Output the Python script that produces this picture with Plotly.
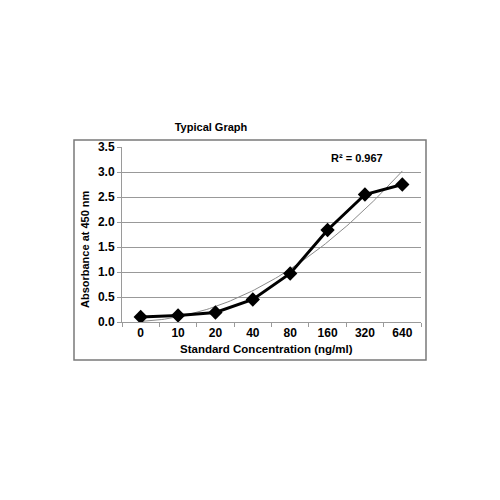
import numpy as np
import plotly.graph_objects as go

# standard curve data
concentrations = ["0", "10", "20", "40", "80", "160", "320", "640"]
absorbance = [0.10, 0.13, 0.19, 0.45, 0.97, 1.84, 2.55, 2.75]
y_ticks = [0.0, 0.5, 1.0, 1.5, 2.0, 2.5, 3.0, 3.5]
r_squared_label = "R² = 0.967"

pos = np.arange(len(concentrations))

# 2nd order polynomial trendline (Excel style)
coef = np.polyfit(pos + 1, absorbance, 2)
trend_x = np.linspace(0, len(concentrations) - 1, 100)
trend_y = np.polyval(coef, trend_x + 1)

font = "Liberation Sans, Arial, sans-serif"

# page body has an 8px margin, so the figure is 492 wide/high
W = 492
# plot area in window pixels: x 122..421, y 147..322
def px(x):
    return (x - 122) / 299

def py(y):
    return (322 - y) / 175

fig = go.Figure()

fig.add_trace(go.Scatter(
    x=trend_x,
    y=trend_y,
    mode="lines",
    line=dict(color="#8a8a8a", width=1),
    hoverinfo="skip",
    showlegend=False
))

fig.add_trace(go.Scatter(
    x=pos,
    y=absorbance,
    mode="lines+markers",
    line=dict(color="black", width=3),
    marker=dict(symbol="diamond", size=11, color="black"),
    showlegend=False
))

fig.update_layout(
    width=W,
    height=W,
    margin=dict(l=114, r=W - 413, t=139, b=W - 314),
    paper_bgcolor="white",
    plot_bgcolor="white",
    font=dict(family=font, color="black"),
    title=dict(
        text="<b>Typical Graph</b>",
        x=(211 - 8) / W, xanchor="center",
        y=1 - (127 - 8) / W, yanchor="middle",
        font=dict(size=11, family=font, color="black")
    ),
    annotations=[
        dict(
            text="<b>" + r_squared_label + "</b>",
            xref="paper", yref="paper",
            x=px(357), y=py(158),
            xanchor="center", yanchor="middle",
            showarrow=False,
            font=dict(size=11, family=font, color="black")
        ),
        dict(
            text="<b>Standard Concentration (ng/ml)</b>",
            xref="paper", yref="paper",
            x=px(266), y=py(349),
            xanchor="center", yanchor="middle",
            showarrow=False,
            font=dict(size=11.5, family=font, color="black")
        ),
        dict(
            text="<b>Absorbance at 450 nm</b>",
            xref="paper", yref="paper",
            x=px(85), y=py(249),
            xanchor="center", yanchor="middle",
            textangle=-90,
            showarrow=False,
            font=dict(size=11, family=font, color="black")
        ),
    ],
    shapes=[dict(
        type="rect", xref="paper", yref="paper",
        x0=px(74), x1=px(426),
        y0=py(360), y1=py(140),
        line=dict(color="#7a7a7a", width=1.5),
        fillcolor="rgba(0,0,0,0)",
        layer="below"
    )]
)

fig.update_xaxes(
    range=[-0.5, len(concentrations) - 0.5],
    tickvals=pos,
    ticktext=["<b>" + c + "</b>" for c in concentrations],
    ticks="",
    tickfont=dict(size=12, family=font, color="black"),
    showgrid=False,
    zeroline=False,
    showline=True,
    linecolor="#9a9a9a",
    linewidth=1,
    minor=dict(
        tickvals=list(np.arange(-0.5, len(concentrations), 1.0)),
        ticks="outside", ticklen=4, tickcolor="#9a9a9a", showgrid=False
    )
)

fig.update_yaxes(
    range=[0, 3.5],
    tickvals=y_ticks,
    ticktext=["<b>%.1f</b>" % v for v in y_ticks],
    ticks="outside",
    ticklen=4,
    tickcolor="#9a9a9a",
    tickfont=dict(size=12, family=font, color="black"),
    showgrid=True,
    gridcolor="#999999",
    gridwidth=1,
    zeroline=False,
    showline=True,
    linecolor="#9a9a9a",
    linewidth=1
)

fig.write_html("out.html")
